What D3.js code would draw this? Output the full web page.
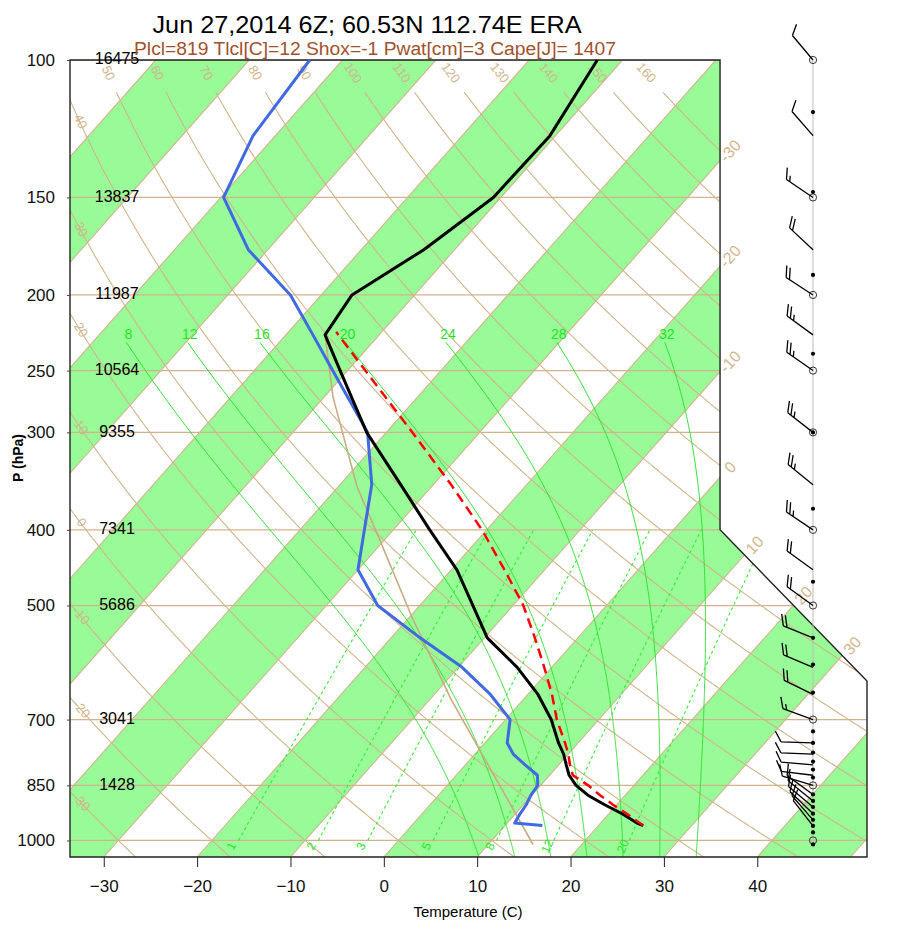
<!DOCTYPE html>
<html>
<head>
<meta charset="utf-8">
<script src="https://cdn.jsdelivr.net/npm/d3@7"></script>
<style>
  body { margin: 0; background: #fff; }
  text { font-family: "Liberation Sans", Arial, Helvetica, sans-serif; }
</style>
</head>
<body>
<div class="container"></div>
<script>
// sounding values (pressure hPa, temperature C)
const pLevels = [100, 125, 150, 175, 200, 225, 250, 300, 350, 400, 450, 500, 550, 600, 650, 700, 750, 775, 800, 825, 850, 875, 900, 925, 950, 957];
const tempC = [-52.7, -50.6, -50.8, -53.3, -56.7, -55.8, -50.8, -42.1, -33.5, -26.1, -19.4, -14.3, -9.7, -3.7, 1.1, 4.9, 7.9, 9.5, 10.8, 12.1, 13.8, 16.0, 18.7, 21.5, 23.9, 24.8];
const dewC = [-83.5, -82.4, -79.7, -72.1, -63.3, -57.1, -51.6, -42.0, -36.6, -33.1, -30.0, -24.5, -16.9, -9.6, -4.0, 0.5, 2.4, 4.1, 6.4, 8.7, 9.7, 9.9, 10.3, 10.5, 10.8, 14.0];

// lifted parcel (red dashed)
const parcelP = [957, 950, 925, 900, 875, 850, 825, 800, 775, 750, 700, 650, 600, 550, 500, 450, 400, 350, 300, 250, 223];
const parcelT = [24.8, 24.2, 22.0, 19.6, 17.3, 15.1, 12.5, 11.2, 10.0, 8.6, 5.5, 2.6, -0.8, -4.6, -8.9, -14.3, -20.5, -28.1, -37.2, -48.1, -54.9];

// tan trace
const tanP = [225, 270, 352, 412, 521, 660, 1012];
const tanT = [-55.8, -49.1, -38.0, -30.5, -19.4, -7.7, 14.8];

// winds (direction deg, speed kt)
const windP = [100, 125, 150, 175, 200, 225, 250, 300, 350, 400, 450, 500, 550, 600, 650, 700, 750, 775, 800, 825, 850, 873, 890, 906, 924, 941, 958];
const windDir = [320, 319, 304, 313, 303, 306, 305, 308, 309, 304, 306, 306, 292, 293, 296, 290, 272, 272, 275, 277, 287, 306, 309, 310, 314, 319, 322];
const windSpd = [10, 10, 15, 20, 20, 25, 25, 25, 25, 25, 20, 20, 20, 20, 20, 15, 10, 10, 10, 10, 10, 10, 10, 10, 10, 10, 10];
const dotP = [116.6, 147.6, 188.5, 237.9, 300, 375.8, 466.1, 550, 595.2, 646.4, 725, 750, 771.5, 792.3, 811.3, 830.6, 873, 890, 906, 924, 941, 958, 976.6, 1011.9];
const circleP = [100, 150, 200, 250, 300, 400, 500, 700, 850, 1000];

// axis labels
const pLabels = [100, 150, 200, 250, 300, 400, 500, 700, 850, 1000];
const heightLabels = ["16475", "13837", "11987", "10564", "9355", "7341", "5686", "3041", "1428"];
const tTicks = [-30, -20, -10, 0, 10, 20, 30, 40];

// background line sets
const thetaValues = d3.range(-30, 161, 10);
const thetaWValues = [8, 12, 16, 20, 24, 28, 32];
const mixValues = [1, 2, 3, 5, 8, 12, 20];
const isoLabelValues = [-30, -20, -10, 0, 10, 20, 30];

const title = "Jun 27,2014 6Z; 60.53N 112.74E ERA";
const subtitle = "Plcl=819 Tlcl[C]=12 Shox=-1 Pwat[cm]=3 Cape[J]= 1407";

const width = 900, height = 930;
const tan = "#d2b48c";

const svg = d3.select(".container")
  .append("svg")
  .attr("width", width)
  .attr("height", height);

// skew-T coordinates
const xScale = d3.scaleLinear().domain([-19, 27.1]).range([70, 867]);
const yScale = d3.scaleLinear().domain([-0.9346217, 44.061]).range([857, 60]);
const skewY = p => 132.182 - 44.061 * Math.log10(p);
const skewX = (t, p) => 0.54 * t + 0.90692 * skewY(p);
const px = (t, p) => xScale(skewX(t, p));
const py = p => yScale(skewY(p));

const line = d3.line().x(d => px(d[1], d[0])).y(d => py(d[0]));

// frame outline (upper right corner cut off)
const frameX = [-19, 27.1, 27.1, 18.6, 18.6, -19];
const frameY = [-0.9346217, -0.9346217, 9.0, 17.53847, 44.061, 44.061];
const framePts = frameX.map((x, i) => [xScale(x), yScale(frameY[i])]);

svg.append("defs").append("clipPath").attr("id", "frame")
  .append("polygon").attr("points", framePts.map(d => d.join(",")).join(" "));

const bg = svg.append("g").attr("clip-path", "url(#frame)");

// green isotherm bands
for (let t0 = -120; t0 <= 40; t0 += 20) {
  bg.append("path")
    .attr("d", line([[1050, t0], [100, t0], [100, t0 + 10], [1050, t0 + 10]]) + "Z")
    .attr("fill", "#98fb98");
}

// isotherms
for (let t = -120; t <= 50; t += 10) {
  bg.append("path").attr("d", line([[1050, t], [100, t]]))
    .attr("stroke", tan).attr("stroke-width", 1.1).attr("fill", "none");
}

// isobars
pLabels.forEach(p => {
  bg.append("line")
    .attr("x1", 70).attr("x2", 867).attr("y1", py(p)).attr("y2", py(p))
    .attr("stroke", tan).attr("stroke-width", 1.3);
});

// dry adiabats
const dryT = (th, p) => (th + 273.15) * Math.pow(p / 1000, 0.2857) - 273.15;
const labels = svg.append("g");
thetaValues.forEach(th => {
  const pts = d3.range(1050, 109, -2).map(p => [p, dryT(th, p)]);
  bg.append("path").attr("d", line(pts))
    .attr("stroke", tan).attr("stroke-width", 1.1).attr("fill", "none");
  let lp = null;
  for (let p = 1050; p >= 104; p -= 1) {
    if (px(dryT(th, p), p) <= 81) { lp = p; break; }
  }
  if (lp === null) lp = 104;
  const x0 = px(dryT(th, lp), lp), y0 = py(lp);
  const x1 = px(dryT(th, lp + 4), lp + 4), y1 = py(lp + 4);
  const ang = Math.atan2(y1 - y0, x1 - x0) * 180 / Math.PI;
  labels.append("text")
    .attr("transform", `translate(${x0},${y0}) rotate(${ang})`)
    .attr("text-anchor", "middle").attr("dominant-baseline", "middle")
    .attr("font-size", 13).attr("fill", tan)
    .text(th);
});

// moist (pseudo) adiabats
const esat = tc => 6.112 * Math.exp(17.67 * tc / (tc + 243.5));
function dTdp(p, T) {
  const es = esat(T - 273.15);
  const rs = 0.622 * es / (p - es);
  const num = 287.04 * T + 2.501e6 * rs;
  const den = p * (1005.7 + 2.501e6 * 2.501e6 * rs * 0.622 / (287.04 * T * T));
  return num / den;
}
function moistPath(thw, pTop) {
  const up = [];
  let T = thw + 273.15;
  for (let p = 1000; p > pTop; p -= 2) {
    up.push([p, T - 273.15]);
    const k1 = dTdp(p, T);
    const k2 = dTdp(p - 2, T - 2 * k1);
    T -= 2 * (k1 + k2) / 2;
  }
  up.push([pTop, T - 273.15]);
  const down = [];
  T = thw + 273.15;
  for (let p = 1000; p < 1050; p += 2) {
    const k1 = dTdp(p, T);
    const k2 = dTdp(p + 2, T + 2 * k1);
    T += 2 * (k1 + k2) / 2;
    down.push([p + 2, T - 273.15]);
  }
  return down.reverse().concat(up);
}
thetaWValues.forEach(thw => {
  const pts = moistPath(thw, 230);
  bg.append("path").attr("d", line(pts))
    .attr("stroke", "#2fe02f").attr("stroke-width", 1).attr("fill", "none");
  const top = pts[pts.length - 1];
  labels.append("text")
    .attr("x", px(top[1], top[0]) + 2).attr("y", py(top[0]) - 3)
    .attr("text-anchor", "middle")
    .attr("font-size", 14).attr("fill", "#1ee61e")
    .text(thw);
});

// mixing ratio lines
const mixTd = (w, p) => {
  const e = w * p / (622 + w);
  const l = Math.log(e / 6.112);
  return 243.5 * l / (17.67 - l);
};
mixValues.forEach(w => {
  const pts = d3.range(1000, 399, -10).map(p => [p, mixTd(w, p)]);
  bg.append("path").attr("d", line(pts))
    .attr("stroke", "#33ee33").attr("stroke-width", 1.1)
    .attr("stroke-dasharray", "3,3").attr("fill", "none");
  const x0 = px(mixTd(w, 1018), 1018) - 3, y0 = py(1018);
  const x1 = px(mixTd(w, 980), 980) - 3, y1 = py(980);
  const ang = Math.atan2(y1 - y0, x1 - x0) * 180 / Math.PI;
  labels.append("text")
    .attr("transform", `translate(${x0},${y0}) rotate(${ang})`)
    .attr("text-anchor", "middle").attr("dominant-baseline", "middle")
    .attr("font-size", 12).attr("fill", "#22e822")
    .text(w);
});

// isotherm labels along the right edge
function isoRight(t) {
  let Y = (18.6 - 0.54 * t) / 0.90692;
  if (Y >= 17.53847) return [18.6, Y];
  const k = 8.5 / 8.53847;
  Y = (18.6 + 17.53847 * k - 0.54 * t) / (0.90692 + k);
  if (Y >= 9.0) return [18.6 + (17.53847 - Y) * k, Y];
  return [27.1, (27.1 - 0.54 * t) / 0.90692];
}
isoLabelValues.forEach(t => {
  const q = isoRight(t);
  labels.append("text")
    .attr("transform", `translate(${xScale(q[0]) + 11},${yScale(q[1]) - 9}) rotate(-48)`)
    .attr("text-anchor", "middle").attr("dominant-baseline", "middle")
    .attr("font-size", 16).attr("fill", tan)
    .text(t);
});

// frame
svg.append("polygon")
  .attr("points", framePts.map(d => d.join(",")).join(" "))
  .attr("fill", "none").attr("stroke", "#222").attr("stroke-width", 1.4);

// tan trace, dewpoint, temperature, parcel
svg.append("path")
  .attr("d", line(tanP.map((p, i) => [p, tanT[i]])))
  .attr("fill", "none").attr("stroke", "#c9aa82").attr("stroke-width", 1.6);

svg.append("path")
  .attr("d", line(pLevels.map((p, i) => [p, dewC[i]])))
  .attr("fill", "none").attr("stroke", "#4169e1").attr("stroke-width", 3)
  .attr("stroke-linejoin", "round");

svg.append("path")
  .attr("d", line(pLevels.map((p, i) => [p, tempC[i]])))
  .attr("fill", "none").attr("stroke", "#000").attr("stroke-width", 3)
  .attr("stroke-linejoin", "round");

svg.append("path")
  .attr("d", line(parcelP.map((p, i) => [p, parcelT[i]])))
  .attr("fill", "none").attr("stroke", "#ff0000").attr("stroke-width", 2.5)
  .attr("stroke-dasharray", "10,6");

// axes
const tBottom = d3.scaleLinear().domain([-30, 40]).range([px(-30, 1050), px(40, 1050)]);
const xAxis = svg.append("g")
  .attr("transform", "translate(0,857)")
  .call(d3.axisBottom(tBottom).tickValues(tTicks).tickSize(10).tickSizeOuter(0).tickPadding(13));
xAxis.select(".domain").remove();
xAxis.selectAll("text").attr("font-size", 17).attr("font-family", null).attr("fill", "#111");
xAxis.selectAll("line").attr("stroke", "#222");

const pScale = d3.scaleLog().domain([1050, 100]).range([857, 60]);
const yAxis = svg.append("g")
  .attr("transform", "translate(70,0)")
  .call(d3.axisLeft(pScale).tickValues(pLabels).tickFormat(d3.format("d")).tickSize(3).tickPadding(12));
yAxis.select(".domain").remove();
yAxis.selectAll("line").attr("stroke", "#444");
yAxis.selectAll("text").attr("font-size", 17).attr("font-family", null).attr("fill", "#111");

// heights on the isobars
heightLabels.forEach((h, i) => {
  svg.append("text")
    .attr("x", 117).attr("y", py(pLabels[i]))
    .attr("text-anchor", "middle").attr("dominant-baseline", "middle")
    .attr("font-size", 16).attr("fill", "#000")
    .text(h);
});

svg.append("text")
  .attr("x", 468).attr("y", 917)
  .attr("text-anchor", "middle").attr("font-size", 15)
  .text("Temperature (C)");

svg.append("text")
  .attr("transform", "translate(23,458) rotate(-90)")
  .attr("text-anchor", "middle").attr("font-size", 14).attr("font-weight", "bold")
  .text("P (hPa)");

// titles
svg.append("text")
  .attr("x", 367).attr("y", 33)
  .attr("text-anchor", "middle").attr("font-size", 23)
  .attr("textLength", 429).attr("lengthAdjust", "spacingAndGlyphs")
  .text(title);
svg.append("text")
  .attr("x", 375).attr("y", 55)
  .attr("text-anchor", "middle").attr("font-size", 18).attr("fill", "#a0522d")
  .attr("textLength", 482).attr("lengthAdjust", "spacingAndGlyphs")
  .text(subtitle);

// wind profile
const wx = 813;
const wind = svg.append("g");
wind.append("line")
  .attr("x1", wx).attr("x2", wx).attr("y1", py(100)).attr("y2", py(1012))
  .attr("stroke", "#bbb").attr("stroke-width", 1);

circleP.forEach(p => {
  wind.append("circle").attr("cx", wx).attr("cy", py(p)).attr("r", 3.6)
    .attr("fill", "none").attr("stroke", "#333").attr("stroke-width", 1);
});
dotP.forEach(p => {
  wind.append("circle").attr("cx", wx).attr("cy", py(p)).attr("r", 2.1).attr("fill", "#000");
});

const shaft = 32, barbLen = 12, barbGap = 4;
const rc = Math.cos(Math.PI / 3), rs = Math.sin(Math.PI / 3);
windP.forEach((p, i) => {
  const y = py(p);
  const a = windDir[i] * Math.PI / 180;
  const ux = Math.sin(a), uy = -Math.cos(a);
  const tx = wx + ux * shaft, ty = y + uy * shaft;
  const bx = ux * rc - uy * rs, by = ux * rs + uy * rc;
  let d = `M${wx},${y}L${tx},${ty}`;
  const spd = Math.round(windSpd[i] / 5) * 5;
  const full = Math.floor(spd / 10), half = spd % 10 >= 5;
  let pos = 0;
  for (let k = 0; k < full; k++) {
    const sx = tx - ux * pos, sy = ty - uy * pos;
    d += `M${sx},${sy}L${sx + bx * barbLen},${sy + by * barbLen}`;
    pos += barbGap;
  }
  if (half) {
    if (full === 0) pos = barbGap;
    const sx = tx - ux * pos, sy = ty - uy * pos;
    d += `M${sx},${sy}L${sx + bx * barbLen / 2},${sy + by * barbLen / 2}`;
  }
  wind.append("path").attr("d", d)
    .attr("fill", "none").attr("stroke", "#000").attr("stroke-width", 1.3);
});
</script>
</body>
</html>
